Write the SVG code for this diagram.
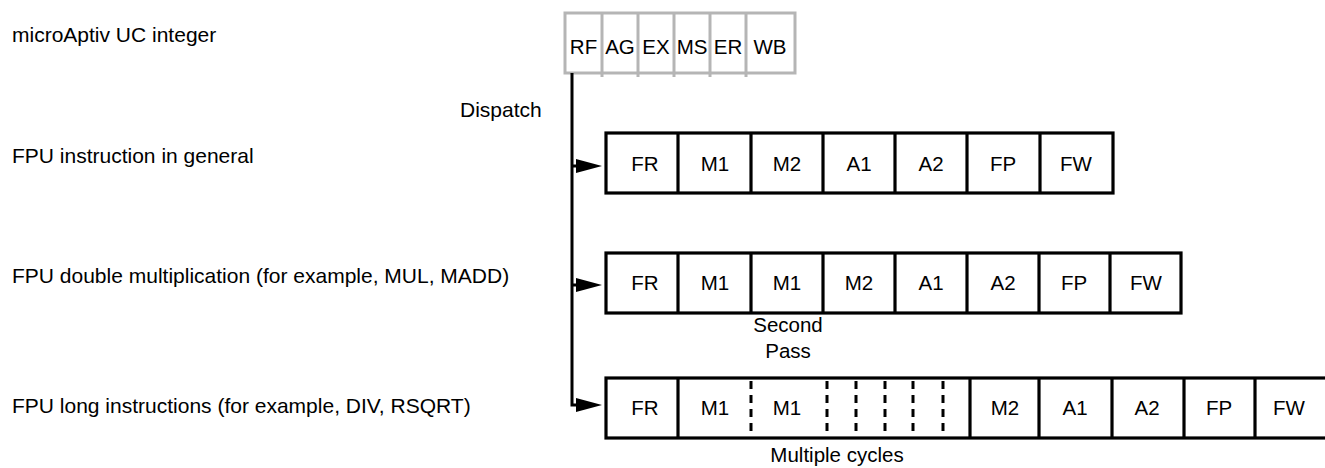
<svg xmlns="http://www.w3.org/2000/svg" width="1325" height="468" viewBox="0 0 1325 468">
<style>
text{font-family:"Liberation Sans",Arial,sans-serif;font-size:21px;fill:#000}
.st{text-anchor:middle;font-size:20.5px}
.lbl{font-size:21px}
.box{fill:#fff;stroke:#000;stroke-width:3.2}
.div{stroke:#000;stroke-width:3.2}
.dash{stroke:#000;stroke-width:3;stroke-dasharray:8 6}
.gbox{fill:#fff;stroke:#b5b5b5;stroke-width:3}
.gdiv{stroke:#b5b5b5;stroke-width:3}
.conn{fill:none;stroke:#000;stroke-width:3}
.head{fill:#000}
</style>
<rect width="1325" height="468" fill="#fff"/>

<g id="labels">
<text class="lbl" x="12" y="42">microAptiv UC integer</text>
<text class="lbl" x="12" y="163">FPU instruction in general</text>
<text class="lbl" x="12" y="283">FPU double multiplication (for example, MUL, MADD)</text>
<text class="lbl" x="12" y="413">FPU long instructions (for example, DIV, RSQRT)</text>
</g>

<g id="integer-pipeline">
<rect class="gbox" x="565" y="13" width="230" height="60"/>
<line class="gdiv" x1="602" y1="13" x2="602" y2="77"/>
<line class="gdiv" x1="638" y1="13" x2="638" y2="77"/>
<line class="gdiv" x1="674" y1="13" x2="674" y2="77"/>
<line class="gdiv" x1="710" y1="13" x2="710" y2="77"/>
<line class="gdiv" x1="746" y1="13" x2="746" y2="77"/>
<text class="st" x="583.5" y="54">RF</text>
<text class="st" x="620" y="54">AG</text>
<text class="st" x="656" y="54">EX</text>
<text class="st" x="692" y="54">MS</text>
<text class="st" x="728" y="54">ER</text>
<text class="st" x="770" y="54">WB</text>
</g>

<g id="connectors">
<polyline class="conn" points="572,73 572,405 580,405"/>
<line class="conn" x1="572" y1="166" x2="580" y2="166"/>
<line class="conn" x1="572" y1="285" x2="580" y2="285"/>
<path class="head" d="M576,159 L602,166 L576,173 Z"/>
<path class="head" d="M576,278 L602,285 L576,292 Z"/>
<path class="head" d="M576,398 L602,405 L576,412 Z"/>
<text x="460" y="117">Dispatch</text>
</g>

<g id="fpu-general">
<rect class="box" x="606" y="133" width="507" height="60"/>
<line class="div" x1="678" y1="133" x2="678" y2="193"/>
<line class="div" x1="751" y1="133" x2="751" y2="193"/>
<line class="div" x1="823" y1="133" x2="823" y2="193"/>
<line class="div" x1="895" y1="133" x2="895" y2="193"/>
<line class="div" x1="967" y1="133" x2="967" y2="193"/>
<line class="div" x1="1040" y1="133" x2="1040" y2="193"/>
<text class="st" x="645" y="170.5">FR</text>
<text class="st" x="715" y="170.5">M1</text>
<text class="st" x="787" y="170.5">M2</text>
<text class="st" x="859" y="170.5">A1</text>
<text class="st" x="931" y="170.5">A2</text>
<text class="st" x="1003" y="170.5">FP</text>
<text class="st" x="1076" y="170.5">FW</text>
</g>

<g id="fpu-double-mul">
<rect class="box" x="606" y="253" width="575" height="60"/>
<line class="div" x1="678" y1="253" x2="678" y2="313"/>
<line class="div" x1="751" y1="253" x2="751" y2="313"/>
<line class="div" x1="823" y1="253" x2="823" y2="313"/>
<line class="div" x1="895" y1="253" x2="895" y2="313"/>
<line class="div" x1="967" y1="253" x2="967" y2="313"/>
<line class="div" x1="1039" y1="253" x2="1039" y2="313"/>
<line class="div" x1="1110" y1="253" x2="1110" y2="313"/>
<text class="st" x="645" y="289.5">FR</text>
<text class="st" x="715" y="289.5">M1</text>
<text class="st" x="787" y="289.5">M1</text>
<text class="st" x="859" y="289.5">M2</text>
<text class="st" x="931" y="289.5">A1</text>
<text class="st" x="1003" y="289.5">A2</text>
<text class="st" x="1074" y="289.5">FP</text>
<text class="st" x="1146" y="289.5">FW</text>
<text class="st" x="788" y="332">Second</text>
<text class="st" x="788" y="358">Pass</text>
</g>

<g id="fpu-long">
<rect class="box" x="606" y="378" width="722" height="60"/>
<line class="div" x1="678" y1="378" x2="678" y2="438"/>
<line class="dash" x1="751" y1="381" x2="751" y2="438"/>
<line class="dash" x1="827" y1="381" x2="827" y2="438"/>
<line class="dash" x1="856" y1="381" x2="856" y2="438"/>
<line class="dash" x1="885" y1="381" x2="885" y2="438"/>
<line class="dash" x1="913" y1="381" x2="913" y2="438"/>
<line class="dash" x1="943" y1="381" x2="943" y2="438"/>
<line class="div" x1="970" y1="378" x2="970" y2="438"/>
<line class="div" x1="1039" y1="378" x2="1039" y2="438"/>
<line class="div" x1="1112" y1="378" x2="1112" y2="438"/>
<line class="div" x1="1184" y1="378" x2="1184" y2="438"/>
<line class="div" x1="1255" y1="378" x2="1255" y2="438"/>
<text class="st" x="645" y="414.5">FR</text>
<text class="st" x="715" y="414.5">M1</text>
<text class="st" x="787" y="414.5">M1</text>
<text class="st" x="1005" y="414.5">M2</text>
<text class="st" x="1075" y="414.5">A1</text>
<text class="st" x="1147" y="414.5">A2</text>
<text class="st" x="1219" y="414.5">FP</text>
<text class="st" x="1289" y="414.5">FW</text>
<text class="st" x="837" y="462">Multiple cycles</text>
</g>
</svg>
